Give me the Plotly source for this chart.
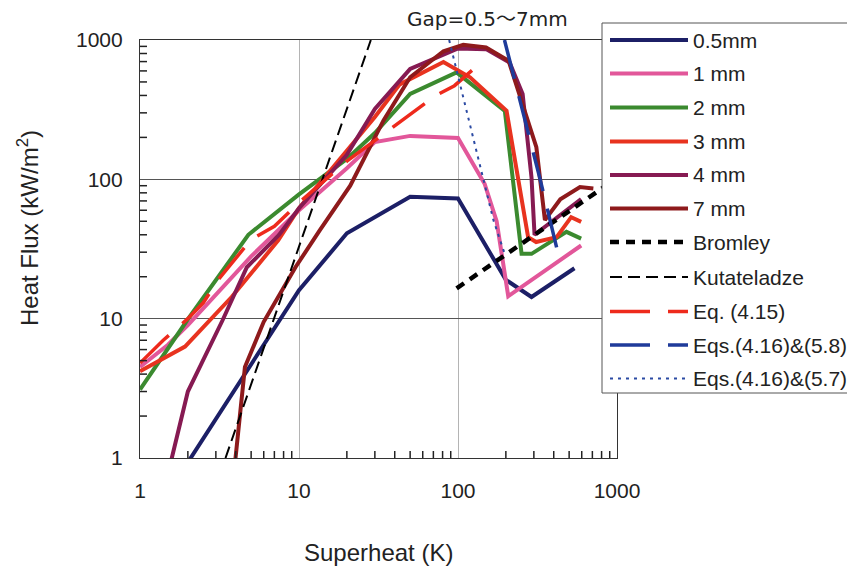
import plotly.graph_objects as go

# ---------------- data ----------------
x_05 = [2.0, 5, 10, 20, 50, 100, 200, 290, 540]
y_05 = [0.93, 4.7, 16, 41, 75, 73, 19, 14.3, 23]

x_1 = [1, 1.5, 2, 3, 5, 10, 20, 30, 50, 100, 147, 175, 207, 595]
y_1 = [4.5, 6.5, 9, 15, 28, 60, 120, 185, 205, 198, 93, 50, 14.5, 33.5]

x_2 = [1, 2, 4.8, 10, 20, 30, 50, 98, 197, 251, 290, 481, 595]
y_2 = [3.1, 9.9, 40, 78, 140, 215, 410, 585, 310, 29.2, 29.2, 42, 37.5]

x_3 = [1, 1.92, 3.77, 4.57, 7.4, 10, 16, 30, 43, 81, 119, 202, 234, 276, 310, 417, 515, 595]
y_3 = [4.2, 6.3, 14.3, 18.8, 36.5, 62, 118, 280, 480, 696, 540, 310, 116, 38.5, 35.5, 38.5, 53.5, 49.5]

x_4 = [1.55, 2, 3.3, 4.7, 7.5, 10, 20, 30, 50, 100, 150, 211, 255, 290, 303, 595]
y_4 = [0.9, 3, 9.7, 23.4, 40, 62, 150, 320, 620, 870, 860, 690, 410, 103, 40, 72]

x_7 = [3.95, 4.57, 6, 9.5, 13.5, 21, 34, 50, 81, 108, 150, 208, 311, 352, 440, 585, 710]
y_7 = [0.9, 4.5, 9.5, 23.4, 43, 90, 265, 540, 830, 925, 885, 710, 170, 51, 72, 88, 86]

x_bromley = [98, 1000]
y_bromley = [16.5, 102]

x_kut = [3.45, 28.3]
y_kut = [1, 1000]

x_eq415 = [1, 1.4, 2, 2.5, 3.1, 5, 7, 10, 20, 39, 72, 95, 147]
y_eq415 = [4.8, 7.0, 10, 13, 19, 37, 46, 68, 135, 236, 398, 470, 725]

x_eq58 = [196, 330, 417]
y_eq58 = [1000, 98, 32.5]

x_eq57 = [88, 103, 124, 167, 197]
y_eq57 = [1000, 480, 200, 51, 29]

tick_vals = [1, 10, 100, 1000]
tick_text = ["1", "10", "100", "1000"]
minor_vals = [m * 10 ** k for k in range(3) for m in range(2, 10)]

names = ["0.5mm", "1 mm", "2 mm", "3 mm", "4 mm", "7 mm",
         "Bromley", "Kutateladze", "Eq. (4.15)", "Eqs.(4.16)&(5.8)", "Eqs.(4.16)&(5.7)"]
colors = ["#1c1f66", "#e2579a", "#3b8a2f", "#e8331f", "#861a52", "#8e1a1c",
          "#000000", "#000000", "#ee2a1c", "#1f3b9a", "#2b4aa3"]
dashes = ["solid", "solid", "solid", "solid", "solid", "solid",
          "9px,7px", "12px,6px", "40px,18px", "40px,18px", "3px,5px"]
widths = [4, 4, 4, 4, 4, 4, 4.5, 2, 3.5, 3.5, 2]
xs = [x_05, x_1, x_2, x_3, x_4, x_7, x_bromley, x_kut, x_eq415, x_eq58, x_eq57]
ys = [y_05, y_1, y_2, y_3, y_4, y_7, y_bromley, y_kut, y_eq415, y_eq58, y_eq57]

# ---------------- layout geometry ----------------
W, H = 847, 567
ML, MR, MT, MB = 140, 230, 40, 109
PW, PH = W - ML - MR, H - MT - MB

def pxx(p):
    return (p - ML) / PW

def pxy(p):
    return (H - MB - p) / PH

FONT = "Liberation Sans, Arial, sans-serif"

fig = go.Figure()
for i in range(len(names)):
    fig.add_trace(go.Scatter(
        x=xs[i], y=ys[i], mode="lines", name=names[i], showlegend=False,
        line=dict(color=colors[i], width=widths[i], dash=dashes[i]),
        hoverinfo="skip"))

axis_common = dict(
    type="log", range=[0, 3], tickmode="array", tickvals=tick_vals, ticktext=tick_text,
    ticks="", showline=True, linecolor="#333", linewidth=1.2, mirror=True,
    tickfont=dict(family=FONT, size=21, color="#222"), zeroline=False,
)
fig.update_xaxes(**axis_common, showgrid=True, gridcolor="#b4b4b4", gridwidth=1, ticklabelstandoff=14)
fig.update_yaxes(**axis_common, showgrid=True, gridcolor="#555", gridwidth=1, ticklabelstandoff=12)

shapes = []
annotations = []

# minor tick marks (inside) on the bottom and left axes
for v in minor_vals:
    shapes.append(dict(type="line", xref="x", yref="paper", x0=v, x1=v,
                       y0=0, y1=7 / PH,
                       line=dict(color="#222", width=1.5), layer="above"))
    shapes.append(dict(type="line", xref="paper", yref="y", y0=v, y1=v,
                       x0=0, x1=7 / PW,
                       line=dict(color="#222", width=1.5), layer="above"))

# legend box
shapes.append(dict(type="rect", xref="paper", yref="paper", layer="above",
                   x0=pxx(602), x1=pxx(852), y0=pxy(23), y1=pxy(393),
                   fillcolor="white", line=dict(color="#555", width=1)))
row_y = [40, 73.5, 107.5, 141.5, 175, 208.5, 242, 277, 311.5, 345, 378.5]
for i, ry in enumerate(row_y):
    shapes.append(dict(type="line", xref="paper", yref="paper", layer="above",
                       x0=pxx(610), x1=pxx(688), y0=pxy(ry), y1=pxy(ry),
                       line=dict(color=colors[i], width=widths[i], dash=dashes[i])))
    annotations.append(dict(text=names[i], xref="paper", yref="paper", x=pxx(691), y=pxy(ry),
                            xanchor="left", yanchor="middle", showarrow=False,
                            font=dict(family=FONT, size=21, color="#222")))

annotations.append(dict(text="Superheat (K)", xref="paper", yref="paper",
                        x=pxx(378), y=pxy(552), xanchor="center", yanchor="middle",
                        showarrow=False, font=dict(family=FONT, size=24, color="#222")))
annotations.append(dict(text="Heat Flux (kW/m<sup>2</sup>)", xref="paper", yref="paper",
                        x=pxx(28), y=pxy(228), xanchor="center", yanchor="middle", textangle=-90,
                        showarrow=False, font=dict(family=FONT, size=24, color="#222")))
annotations.append(dict(text="Gap=0.5～7mm", xref="paper", yref="paper",
                        x=pxx(487), y=pxy(19), xanchor="center", yanchor="middle",
                        showarrow=False, font=dict(family="DejaVu Sans, Noto Sans CJK JP", size=20, color="#222")))

fig.update_layout(
    width=W, height=H, margin=dict(l=ML, r=MR, t=MT, b=MB),
    paper_bgcolor="white", plot_bgcolor="white",
    showlegend=False, shapes=shapes, annotations=annotations,
)

fig.write_html("out.html")
